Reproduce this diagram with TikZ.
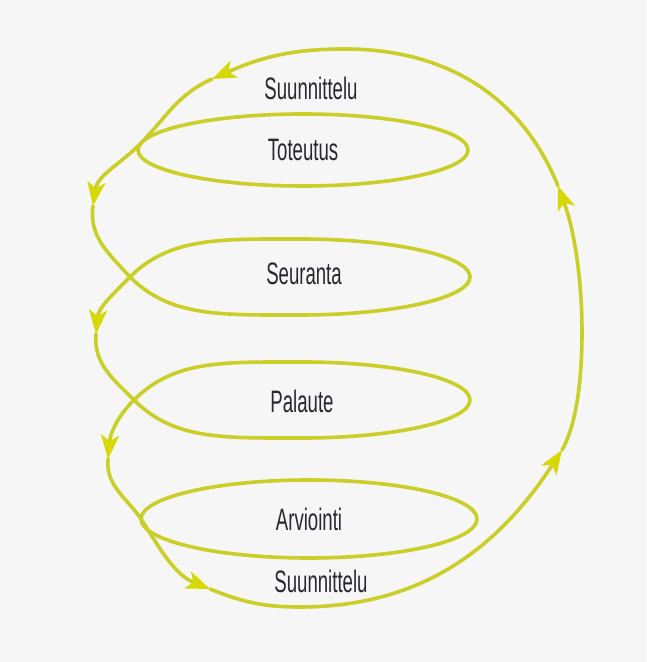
\documentclass[tikz,border=0pt]{standalone}
\usepackage{fontspec}
\setmainfont[FakeStretch=0.6]{Liberation Sans}
\usetikzlibrary{arrows.meta,shapes.geometric}
\definecolor{spiral}{RGB}{202,206,40}
\definecolor{tipcol}{RGB}{214,216,0}
\definecolor{txt}{RGB}{40,40,50}
\definecolor{bg}{RGB}{246,246,246}
\begin{document}
\begin{tikzpicture}[x=1pt,y=1pt,
  curve/.style={draw=spiral,line width=3.6pt,line cap=round},
  arr/.style={curve,-{Stealth[length=24pt,width=18pt,inset=6pt,color=tipcol]}},
  lab/.style={font=\fontsize{31}{36}\selectfont,text=txt,inner sep=0pt},
  loopnode/.style={ellipse,draw=spiral,line width=3.6pt,inner sep=0pt,
    font=\fontsize{31}{36}\selectfont,text=txt}]
\useasboundingbox (0,0) rectangle (646,662);
\fill[bg] (0,0) rectangle (646,662);

% closed ellipses
\node[loopnode,minimum width=330pt,minimum height=72pt] (tot) at (303,512) {Toteutus};
\node[loopnode,minimum width=336pt,minimum height=78pt] (arv) at (309,143) {Arviointi};

% labels of spiral loops
\node[lab] (sui) at (311,574) {Suunnittelu};
\node[lab] (seu) at (304,388) {Seuranta};
\node[lab] (pal) at (302,261) {Palaute};
\node[lab] (sua) at (321,81) {Suunnittelu};

% spiral coordinates
\coordinate (X4) at (143,140);
\coordinate (A4) at (210,73);
\coordinate (B) at (300,55);
\coordinate (A5) at (562,212);
\coordinate (R) at (582,330);
\coordinate (A6) at (558,476);
\coordinate (T) at (345,613);
\coordinate (A7) at (212,583);
\coordinate (X1) at (142,520);
\coordinate (A1) at (93,456);
\coordinate (X2) at (130,385);
\coordinate (Sb) at (300,347);
\coordinate (Sr) at (470,385);
\coordinate (St) at (300,423);
\coordinate (A2) at (96,328);
\coordinate (X3) at (134,262);
\coordinate (Pb) at (302,224);
\coordinate (Pr) at (470,262);
\coordinate (Pt) at (302,300);
\coordinate (A3) at (108,203);

% outer loop
\draw[arr] (X4) to[out=-58,in=158] (A4);
\draw[curve] (A4) to[out=-22,in=180] (B);
\draw[arr] (B) to[out=0,in=237] (A5);
\draw[curve] (A5) .. controls (578,240) and (582,290) .. (R);
\draw[arr] (R) .. controls (582,380) and (575,430) .. (A6);
\draw[curve] (A6) to[out=112,in=0] (T);
\draw[arr] (T) to[out=180,in=24] (A7);
\draw[curve] (A7) to[out=204,in=46] (X1);
\draw[arr] (X1) to[out=226,in=82] (A1);
\draw[curve] (A1) to[out=262,in=132] (X2);

% Seuranta loop
\draw[curve] (X2) .. controls (170,345) and (220,347) .. (Sb)
  .. controls (394,347) and (470,364) .. (Sr)
  .. controls (470,406) and (394,423) .. (St)
  .. controls (220,423) and (170,425) .. (X2);
\draw[arr] (X2) to[out=225,in=85] (A2);
\draw[curve] (A2) to[out=265,in=135] (X3);

% Palaute loop
\draw[curve] (X3) .. controls (174,222) and (222,224) .. (Pb)
  .. controls (395,224) and (470,241) .. (Pr)
  .. controls (470,283) and (395,300) .. (Pt)
  .. controls (222,300) and (174,302) .. (X3);
\draw[arr] (X3) to[out=225,in=85] (A3);
\draw[curve] (A3) to[out=265,in=122] (X4);
\end{tikzpicture}
\end{document}
